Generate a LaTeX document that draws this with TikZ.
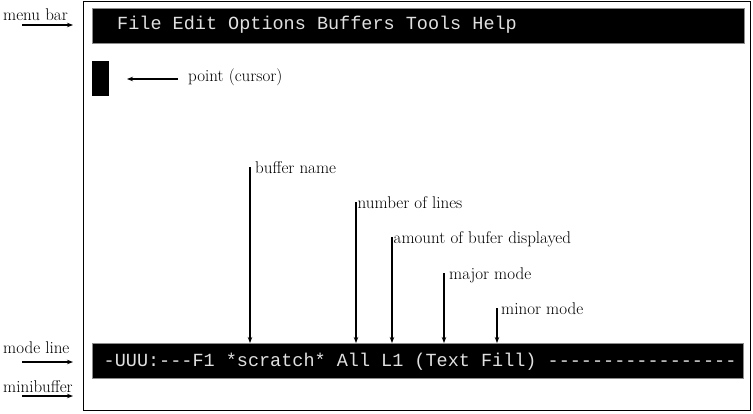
\documentclass[tikz,border=0pt]{standalone}
\usepackage{fontspec}
\newfontfamily\barfont{Liberation Mono}
\usetikzlibrary{arrows.meta}
\tikzset{
  bar/.style={fill=black, draw=black!45, line width=0.8pt, anchor=north west, inner sep=0pt},
  bartext/.style={text=white!88!black, anchor=base west, inner sep=0pt, font=\barfont\fontsize{18.5}{20}\selectfont},
  lbl/.style={anchor=base west, inner sep=0pt, font=\fontsize{17}{19}\selectfont},
  ptr/.style={line width=1.1pt, -{Stealth[length=6pt,width=4.5pt]}},
}
\begin{document}
\begin{tikzpicture}[x=1pt,y=-1pt]
\useasboundingbox (0,0) rectangle (753,413);
% outer frame
\node[draw, line width=1.2pt, anchor=north west, minimum width=667pt, minimum height=409pt, inner sep=0pt] (frame) at (83,1) {};
% menu bar
\node[bar, minimum width=652pt, minimum height=35pt] (menubar) at (92,8) {};
\node[bartext] (menutext) at (117,29.5) {File Edit Options Buffers Tools Help};
% cursor
\node[fill=black, anchor=north west, minimum width=17pt, minimum height=35pt, inner sep=0pt] (cursor) at (92,61) {};
% mode line
\node[bar, minimum width=651pt, minimum height=35pt] (modeline) at (92,343) {};
\node[bartext] (modetext) at (103.5,366.5) {-UUU:---F1 *scratch* All L1 (Text Fill) -----------------};
% left labels
\node[lbl] (lmenu) at (3,20) {menu bar};
\node[lbl] (lmode) at (3,353) {mode line};
\node[lbl] (lmini) at (3,392) {minibuffer};
\coordinate (am1) at (22,25);  \coordinate (am2) at (73,25);
\coordinate (ao1) at (22,362); \coordinate (ao2) at (73,362);
\coordinate (ai1) at (22,396); \coordinate (ai2) at (73,396);
\draw[ptr] (am1) -- (am2);
\draw[ptr] (ao1) -- (ao2);
\draw[ptr] (ai1) -- (ai2);
% point (cursor)
\node[lbl] (lpoint) at (188,81) {point (cursor)};
\coordinate (ap1) at (178,79); \coordinate (ap2) at (127,79);
\draw[ptr] (ap1) -- (ap2);
% mode line pointers
\coordinate (t1) at (250,167);
\coordinate (t2) at (356,202);
\coordinate (t3) at (392,237);
\coordinate (t4) at (444,273);
\coordinate (t5) at (497,308);
\node[lbl] (l1) at (255,173) {buffer name};
\node[lbl] (l2) at (357.5,208) {number of lines};
\node[lbl] (l3) at (393.5,243) {amount of bufer displayed};
\node[lbl] (l4) at (449,279) {major mode};
\node[lbl] (l5) at (501,314) {minor mode};
\foreach \t in {t1,t2,t3,t4,t5}{
  \draw[ptr] (\t) -- (\t |- modeline.north);
}
\end{tikzpicture}
\end{document}
